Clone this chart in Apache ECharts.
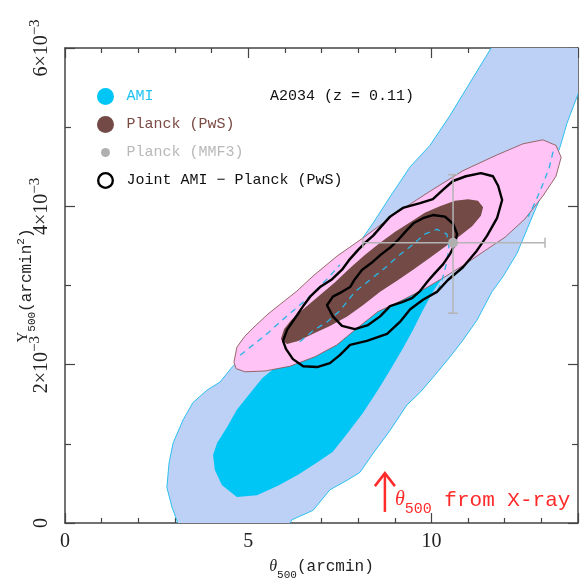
<!DOCTYPE html>
<html><head><meta charset="utf-8">
<script src="https://cdn.jsdelivr.net/npm/echarts@6/dist/echarts.min.js"></script>
<style>html,body{margin:0;padding:0;background:#fff}#c{width:586px;height:581px}</style>
</head><body><div id="c"></div>
<script>
// x: theta500 (arcmin); y: Y500 in units of 1e-3 arcmin^2
const xTickValues = [0, 5, 10];
const yTickValues = [0, 2, 4, 6];

const amiOuter = [[11.46,6.23],[11.63,6.00],[11.05,5.56],[10.51,5.15],[9.96,4.77],[9.42,4.50],[8.87,4.12],[8.41,3.79],[8.05,3.55],[4.58,1.98],[4.23,1.78],[3.88,1.68],[3.49,1.52],[3.22,1.30],[2.95,1.01],[2.84,0.76],[2.78,0.45],[2.92,0.20],[3.08,0.00],[3.14,-0.15],[5.95,-0.15],[6.19,0.04],[6.77,0.16],[7.23,0.42],[7.70,0.54],[8.05,0.64],[8.41,0.88],[8.87,1.17],[9.33,1.49],[9.69,1.65],[10.10,1.87],[10.51,2.10],[10.86,2.31],[11.24,2.56],[11.65,2.92],[11.95,3.11],[12.34,3.41],[12.77,3.89],[13.18,4.33],[13.51,4.75],[13.70,5.05],[13.97,5.38],[14.46,5.98],[14.60,6.23]];

const amiInner = [[5.73,1.96],[5.38,1.83],[5.05,1.64],[4.69,1.43],[4.42,1.21],[4.15,1.01],[4.04,0.86],[4.09,0.67],[4.28,0.48],[4.69,0.33],[5.24,0.35],[5.81,0.47],[6.36,0.61],[6.90,0.77],[7.31,0.90],[7.72,1.14],[8.13,1.39],[8.54,1.68],[8.87,1.93],[9.20,2.19],[9.50,2.44],[9.77,2.69],[10.04,2.92],[10.26,3.07],[9.69,3.07],[8.60,2.94],[7.50,2.63],[6.41,2.31]];

const planckOuter = [[4.61,2.03],[4.69,2.22],[4.91,2.36],[5.19,2.49],[5.54,2.64],[5.92,2.78],[6.33,2.93],[6.77,3.12],[7.42,3.37],[8.13,3.60],[9.06,3.92],[9.96,4.19],[10.86,4.45],[11.79,4.65],[12.50,4.79],[13.04,4.84],[13.40,4.77],[13.54,4.62],[13.40,4.38],[13.04,4.13],[12.55,3.84],[12.01,3.61],[11.46,3.44],[10.92,3.27],[10.37,3.11],[9.82,2.96],[9.14,2.80],[8.54,2.67],[7.97,2.46],[7.42,2.25],[6.82,2.10],[6.14,1.98],[5.46,1.92],[4.91,1.91],[4.67,1.95]];

const planckInner = [[5.89,2.32],[5.98,2.45],[6.17,2.56],[6.55,2.72],[6.96,2.88],[7.37,3.04],[7.78,3.22],[8.19,3.39],[8.60,3.54],[9.01,3.68],[9.42,3.80],[9.82,3.92],[10.23,4.00],[10.64,4.07],[11.00,4.09],[11.27,4.07],[11.41,3.99],[11.35,3.88],[11.11,3.75],[10.78,3.63],[10.37,3.49],[9.96,3.35],[9.50,3.20],[9.06,3.06],[8.60,2.92],[8.13,2.75],[7.70,2.61],[7.23,2.49],[6.77,2.39],[6.36,2.30],[6.06,2.26]];

const jointOuter = [[5.95,2.30],[6.06,2.44],[6.28,2.59],[6.50,2.74],[6.71,2.87],[6.96,2.98],[7.29,3.08],[7.56,3.20],[7.75,3.32],[8.00,3.45],[8.19,3.54],[8.41,3.63],[8.62,3.74],[8.87,3.87],[9.22,3.98],[9.69,4.04],[10.04,4.09],[10.32,4.21],[10.59,4.32],[10.94,4.38],[11.35,4.42],[11.68,4.38],[11.82,4.26],[11.93,4.08],[11.79,3.85],[11.52,3.63],[11.24,3.44],[10.86,3.23],[10.45,3.07],[10.15,2.92],[9.77,2.82],[9.42,2.70],[9.14,2.54],[8.79,2.39],[8.24,2.30],[7.78,2.25],[7.50,2.12],[7.23,2.02],[6.88,1.97],[6.50,1.98],[6.22,2.07],[6.03,2.20]];

const jointInner = [[7.15,2.75],[7.31,2.86],[7.56,2.92],[7.78,2.98],[7.91,3.08],[8.11,3.20],[8.35,3.28],[8.62,3.39],[8.90,3.49],[9.12,3.59],[9.31,3.69],[9.52,3.79],[9.77,3.85],[10.04,3.89],[10.37,3.87],[10.59,3.78],[10.70,3.65],[10.64,3.52],[10.51,3.40],[10.32,3.27],[10.10,3.16],[9.91,3.06],[9.69,2.93],[9.47,2.84],[9.20,2.79],[8.87,2.74],[8.60,2.61],[8.27,2.50],[7.91,2.45],[7.56,2.49],[7.31,2.61]];

const dashA = [[4.78,2.12],[5.19,2.27],[5.54,2.40],[5.92,2.56],[6.33,2.72],[6.74,2.89],[7.15,3.08],[7.50,3.26]];
const dashB = [[6.41,2.29],[6.77,2.43],[7.15,2.54],[7.50,2.68],[7.91,2.92],[8.32,3.07],[8.73,3.22],[9.14,3.39],[9.50,3.52],[9.82,3.65],[10.15,3.71],[10.42,3.65],[10.48,3.47],[10.40,3.26],[10.29,3.07],[10.12,2.88]];
const dashC = [[13.32,4.69],[13.21,4.48],[13.04,4.28],[12.85,4.07],[12.64,3.87]];

// Planck MMF3 point: [theta, Y, thetaLow, thetaHigh, YLow, YHigh]
const mmf3Point = [10.59, 3.54, 8.13, 13.10, 2.65, 4.40];
// X-ray theta500 arrow: [theta, yBase, yTip]
const xrayArrow = [8.73, 0.14, 0.63];

const MONO = 'Liberation Mono';
const SERIF = 'Liberation Serif';

// legend icons drawn in a 34x34 box (corner moves fix the box size)
const BOX = 'M0,0 M34,34 ';
const iconBig = 'path://' + BOX + 'M0,17 a17,17 0 1,0 34,0 a17,17 0 1,0 -34,0 Z';
const iconSmall = 'path://' + BOX + 'M8,17 a9,9 0 1,0 18,0 a9,9 0 1,0 -18,0 Z';
const iconRing = 'path://' + BOX + 'M-1,17 a18,18 0 1,0 36,0 a18,18 0 1,0 -36,0 Z M4,17 a13,13 0 1,1 26,0 a13,13 0 1,1 -26,0 Z';

function areaSeries(name, pts, style, z) {
  return {
    type: 'custom', name, z, clip: true, silent: true,
    data: pts, encode: { x: 0, y: 1 },
    renderItem(params, api) {
      if (params.dataIndex !== 0) return null;
      return { type: 'polygon', shape: { points: pts.map(p => api.coord(p)) }, style };
    }
  };
}
function lineSeries(name, pts, style, z, closed) {
  return {
    type: 'custom', name, z, clip: true, silent: true,
    data: pts, encode: { x: 0, y: 1 },
    renderItem(params, api) {
      if (params.dataIndex !== 0) return null;
      return { type: closed ? 'polygon' : 'polyline', shape: { points: pts.map(p => api.coord(p)) }, style: Object.assign({ fill: null }, style) };
    }
  };
}

const axisCommon = {
  type: 'value',
  splitLine: { show: false },
  axisLine: { show: true, onZero: false, lineStyle: { color: '#444', width: 1.5 } },
  axisTick: { show: true, inside: true, length: 10, lineStyle: { color: '#444', width: 1.2 } },
};

const chart = echarts.init(document.getElementById('c'), null, { renderer: 'canvas' });
chart.setOption({
  animation: false,
  backgroundColor: '#fff',
  grid: { left: 65, right: 8, top: 48, bottom: 58, containLabel: false, outerBoundsMode: 'none' },
  title: {
    text: 'A2034 (z = 0.11)', left: 265, top: 84,
    textStyle: { fontFamily: MONO, fontSize: 15, fontWeight: 'normal', color: '#111' }
  },
  legend: {
    orient: 'vertical', left: 92, top: 83, itemWidth: 32, itemHeight: 17, itemGap: 11,
    selectedMode: false, symbolKeepAspect: true,
    textStyle: { fontFamily: MONO, fontSize: 15 },
    data: [
      { name: 'AMI', icon: iconBig, itemStyle: { color: '#00c6f5', borderWidth: 0 }, textStyle: { color: '#1cc3f2' } },
      { name: 'Planck (PwS)', icon: iconBig, itemStyle: { color: '#734a45', borderWidth: 0 }, textStyle: { color: '#7a4a45' } },
      { name: 'Planck (MMF3)', icon: iconSmall, itemStyle: { color: '#b0b0b0', borderWidth: 0 }, textStyle: { color: '#b8b8b8' } },
      { name: 'Joint AMI − Planck (PwS)', icon: iconRing, itemStyle: { color: '#000', borderWidth: 0 }, textStyle: { color: '#111' } }
    ]
  },
  xAxis: [
    Object.assign({}, axisCommon, {
      position: 'bottom', min: 0, max: 14, interval: 5,
      minorTick: { show: true, splitNumber: 5, length: 5, lineStyle: { color: '#444', width: 1.2 } },
      axisLabel: {
        margin: 9, fontFamily: SERIF, fontSize: 20, color: '#222',
        formatter: v => xTickValues.includes(v) ? String(v) : ''
      },
      name: '{t|θ}{s|500}{m|(arcmin)}', nameLocation: 'middle', nameGap: 36,
      nameTextStyle: {
        rich: {
          t: { fontFamily: SERIF, fontStyle: 'italic', fontSize: 16, color: '#222', lineHeight: 22, verticalAlign: 'top' },
          s: { fontFamily: MONO, fontSize: 11, color: '#222', lineHeight: 12, verticalAlign: 'bottom' },
          m: { fontFamily: MONO, fontSize: 16, color: '#222', lineHeight: 22, verticalAlign: 'top' }
        }
      }
    }),
    Object.assign({}, axisCommon, {
      position: 'top', min: 0, max: 14, interval: 5,
      minorTick: { show: true, splitNumber: 5, length: 5, lineStyle: { color: '#444', width: 1.2 } },
      axisLabel: { show: false }
    })
  ],
  yAxis: [
    Object.assign({}, axisCommon, {
      position: 'left', min: 0, max: 6, interval: 2,
      minorTick: { show: true, splitNumber: 2, length: 6, lineStyle: { color: '#444', width: 1.2 } },
      axisLabel: {
        rotate: 90, margin: 13,
        formatter: v => !yTickValues.includes(v) ? '' : (v === 0 ? '{m|0}' : '{m|' + v + '×10}{s|−3}'),
        rich: {
          m: { fontFamily: SERIF, fontSize: 20, color: '#222', lineHeight: 24, verticalAlign: 'bottom' },
          s: { fontFamily: SERIF, fontSize: 15, color: '#222', lineHeight: 14, verticalAlign: 'top' }
        }
      },
      name: '{t|Y}{s|500}{m|(arcmin}{p|2}{m|)}', nameLocation: 'middle', nameGap: 27, nameRotate: 90,
      nameMoveOverlap: false,
      nameTextStyle: {
        rich: {
          t: { fontFamily: SERIF, fontSize: 15, color: '#222', lineHeight: 22, verticalAlign: 'top' },
          s: { fontFamily: MONO, fontSize: 11, color: '#222', lineHeight: 12, verticalAlign: 'bottom' },
          m: { fontFamily: MONO, fontSize: 16, color: '#222', lineHeight: 22, verticalAlign: 'middle' },
          p: { fontFamily: MONO, fontSize: 11, color: '#222', lineHeight: 12, verticalAlign: 'top' }
        }
      }
    }),
    Object.assign({}, axisCommon, {
      position: 'right', min: 0, max: 6, interval: 2,
      minorTick: { show: true, splitNumber: 2, length: 6, lineStyle: { color: '#444', width: 1.2 } },
      axisLabel: { show: false }
    })
  ],
  series: [
    areaSeries('AMI', amiOuter, { fill: '#bdd1f7', stroke: '#2cc0f0', lineWidth: 1 }, 1),
    areaSeries('AMI', amiInner, { fill: '#00c6f5' }, 2),
    areaSeries('Planck (PwS)', planckOuter, { fill: '#ffc3f5', stroke: '#8c5a5a', lineWidth: 0.9 }, 3),
    areaSeries('Planck (PwS)', planckInner, { fill: '#734a45' }, 4),
    lineSeries('dashA', dashA, { stroke: '#2ab5e6', lineWidth: 1.3, lineDash: [6, 5] }, 5, false),
    lineSeries('dashB', dashB, { stroke: '#2ab5e6', lineWidth: 1.3, lineDash: [6, 5] }, 5, false),
    lineSeries('dashC', dashC, { stroke: '#2ab5e6', lineWidth: 1.3, lineDash: [6, 5] }, 5, false),
    lineSeries('Joint AMI − Planck (PwS)', jointOuter, { stroke: '#000', lineWidth: 2.4, lineJoin: 'round' }, 7, true),
    lineSeries('Joint AMI − Planck (PwS) 1σ', jointInner, { stroke: '#000', lineWidth: 2.4, lineJoin: 'round' }, 7, true),
    {
      type: 'custom', name: 'Planck (MMF3)', z: 8, silent: true,
      data: [mmf3Point],
      renderItem(params, api) {
        const c = api.coord([api.value(0), api.value(1)]);
        const xl = api.coord([api.value(2), api.value(1)]);
        const xr = api.coord([api.value(3), api.value(1)]);
        const yb = api.coord([api.value(0), api.value(4)]);
        const yt = api.coord([api.value(0), api.value(5)]);
        const ls = { stroke: '#b4b4b4', lineWidth: 1.5 };
        const cap = 5;
        return {
          type: 'group', children: [
            { type: 'line', shape: { x1: xl[0], y1: xl[1], x2: xr[0], y2: xr[1] }, style: ls },
            { type: 'line', shape: { x1: yb[0], y1: yb[1], x2: yt[0], y2: yt[1] }, style: ls },
            { type: 'line', shape: { x1: xl[0], y1: xl[1] - cap, x2: xl[0], y2: xl[1] + cap }, style: ls },
            { type: 'line', shape: { x1: xr[0], y1: xr[1] - cap, x2: xr[0], y2: xr[1] + cap }, style: ls },
            { type: 'line', shape: { x1: yb[0] - cap, y1: yb[1], x2: yb[0] + cap, y2: yb[1] }, style: ls },
            { type: 'line', shape: { x1: yt[0] - cap, y1: yt[1], x2: yt[0] + cap, y2: yt[1] }, style: ls },
            { type: 'circle', shape: { cx: c[0], cy: c[1], r: 5 }, style: { fill: '#b0b0b0' } }
          ]
        };
      }
    },
    {
      type: 'custom', name: 'xray', z: 9, silent: true,
      data: [xrayArrow],
      renderItem(params, api) {
        const b = api.coord([api.value(0), api.value(1)]);
        const t = api.coord([api.value(0), api.value(2)]);
        const red = '#ff2a2a';
        return {
          type: 'group', children: [
            { type: 'line', shape: { x1: b[0], y1: b[1], x2: t[0], y2: t[1] }, style: { stroke: red, lineWidth: 2.5 } },
            { type: 'polyline', shape: { points: [[t[0] - 10, t[1] + 13], [t[0], t[1]], [t[0] + 10, t[1] + 13]] }, style: { stroke: red, lineWidth: 2.5, fill: null } },
            {
              type: 'text', x: t[0] + 10, y: t[1] + 30,
              style: {
                text: '{t|θ}{s|500}{m| from X-ray}', align: 'left', verticalAlign: 'middle',
                rich: {
                  t: { fontFamily: SERIF, fontStyle: 'italic', fontSize: 20, fill: red, lineHeight: 26, verticalAlign: 'top' },
                  s: { fontFamily: MONO, fontSize: 15, fill: red, lineHeight: 16, verticalAlign: 'bottom' },
                  m: { fontFamily: MONO, fontSize: 21, fill: red, lineHeight: 26, verticalAlign: 'top' }
                }
              }
            }
          ]
        };
      }
    }
  ]
});
</script>
</body></html>
